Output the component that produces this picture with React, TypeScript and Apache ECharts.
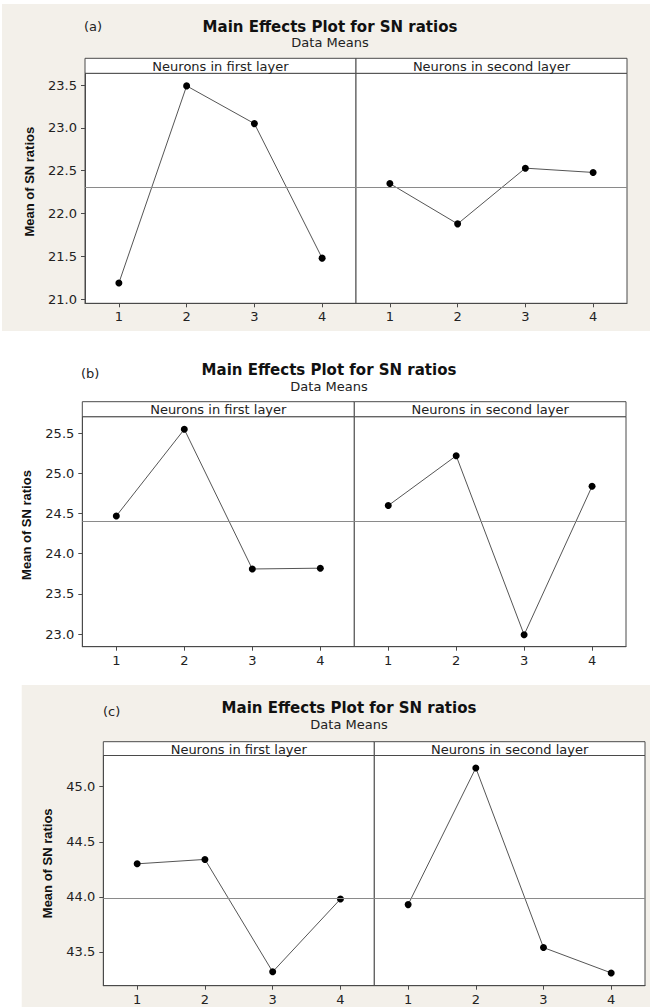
import React, { useEffect, useRef } from "react";
import * as echarts from "echarts";

// ---- data ----
const levels = ["1", "2", "3", "4"];
const factorNames = ["Neurons in first layer", "Neurons in second layer"];
const chartTitle = "Main Effects Plot for SN ratios";
const chartSubtitle = "Data Means";
const yAxisName = "Mean of SN ratios";
const panelLabels = ["(a)", "(b)", "(c)"];

const aFirst = [21.19, 23.49, 23.05, 21.48];
const aSecond = [22.35, 21.88, 22.53, 22.48];
const bFirst = [24.47, 25.55, 23.81, 23.82];
const bSecond = [24.6, 25.22, 22.99, 24.84];
const cFirst = [44.3, 44.34, 43.32, 43.98];
const cSecond = [43.93, 45.17, 43.54, 43.31];

const aTicks = [21.0, 21.5, 22.0, 22.5, 23.0, 23.5];
const bTicks = [23.0, 23.5, 24.0, 24.5, 25.0, 25.5];
const cTicks = [43.5, 44.0, 44.5, 45.0];

// ---- layout ----
const panels = [
  {
    label: panelLabels[0], first: aFirst, second: aSecond, ticks: aTicks, min: 20.953, max: 23.637,
    left: 85, mid: 356, right: 627, headTop: 58.3, plotTop: 73.3, bottom: 303.3,
    titleX: 330, titleY: 26.7, subY: 42, labelX: 84, labelY: 26.7, yNameX: 29.3, yNameY: 181.7,
    bg: { x: 2, y: 4, w: 648, h: 327 },
  },
  {
    label: panelLabels[1], first: bFirst, second: bSecond, ticks: bTicks, min: 22.842, max: 25.707,
    left: 82.3, mid: 354.3, right: 626, headTop: 401.7, plotTop: 416.7, bottom: 646.7,
    titleX: 329, titleY: 370, subY: 386, labelX: 81, labelY: 373, yNameX: 26.7, yNameY: 525,
    bg: null,
  },
  {
    label: panelLabels[2], first: cFirst, second: cSecond, ticks: cTicks, min: 43.194, max: 45.283,
    left: 103.3, mid: 374.3, right: 645, headTop: 741.7, plotTop: 755.5, bottom: 985.7,
    titleX: 349, titleY: 708.3, subY: 724.3, labelX: 103, labelY: 711.7, yNameX: 47.3, yNameY: 863.3,
    bg: { x: 21.7, y: 685, w: 628.3, h: 322 },
  },
];

const FONT = "'DejaVu Sans', Verdana, sans-serif";
const FRAME = "#4a4a4a";

export default function App() {
  const ref = useRef<HTMLDivElement>(null);

  useEffect(() => {
    if (!ref.current) return;
    const chart = echarts.init(ref.current, undefined, { renderer: "svg" });

    const grids: any[] = [];
    const xAxes: any[] = [];
    const yAxes: any[] = [];
    const series: any[] = [];
    const graphics: any[] = [];

    panels.forEach((p) => {
      const all = [...p.first, ...p.second];
      const mean = all.reduce((s, v) => s + v, 0) / all.length;

      if (p.bg) {
        graphics.push({
          type: "rect", z: -10,
          shape: { x: p.bg.x, y: p.bg.y, width: p.bg.w, height: p.bg.h },
          style: { fill: "#f3f0ea" },
        });
      }
      graphics.push({
        type: "text",
        style: {
          text: chartTitle, x: p.titleX, y: p.titleY, font: `bold 15px ${FONT}`, fill: "#111",
          textAlign: "center", textVerticalAlign: "middle", align: "center", verticalAlign: "middle",
        },
      });
      graphics.push({
        type: "text",
        style: {
          text: chartSubtitle, x: p.titleX, y: p.subY, font: `13px ${FONT}`, fill: "#222",
          textAlign: "center", textVerticalAlign: "middle", align: "center", verticalAlign: "middle",
        },
      });
      graphics.push({
        type: "text",
        style: {
          text: p.label, x: p.labelX, y: p.labelY, font: `13px ${FONT}`, fill: "#222",
          textAlign: "left", textVerticalAlign: "middle", align: "left", verticalAlign: "middle",
        },
      });
      graphics.push({
        type: "text",
        x: p.yNameX, y: p.yNameY, rotation: Math.PI / 2,
        style: {
          text: yAxisName, x: 0, y: 0, font: `bold 13px 'Liberation Sans', Arial, sans-serif`, fill: "#111",
          textAlign: "center", textVerticalAlign: "middle", align: "center", verticalAlign: "middle",
        },
      });

      const halves = [
        { x0: p.left, x1: p.mid, data: p.first, name: factorNames[0] },
        { x0: p.mid, x1: p.right, data: p.second, name: factorNames[1] },
      ];
      halves.forEach((h, hi) => {
        const idx = grids.length;
        grids.push({
          left: h.x0, top: p.plotTop, width: h.x1 - h.x0, height: p.bottom - p.plotTop,
          show: true, backgroundColor: "#ffffff", borderColor: FRAME, borderWidth: 1,
          containLabel: false,
        });
        graphics.push({
          type: "rect",
          shape: { x: h.x0, y: p.headTop, width: h.x1 - h.x0, height: p.plotTop - p.headTop },
          style: { fill: "#ffffff", stroke: FRAME, lineWidth: 1 },
        });
        graphics.push({
          type: "text",
          style: {
            text: h.name, x: (h.x0 + h.x1) / 2, y: (p.headTop + p.plotTop) / 2 + 0.5,
            font: `13px ${FONT}`, fill: "#222",
            textAlign: "center", textVerticalAlign: "middle", align: "center", verticalAlign: "middle",
          },
        });
        xAxes.push({
          type: "category", gridIndex: idx, data: levels, boundaryGap: true,
          axisLine: { show: true, lineStyle: { color: FRAME, width: 1 } },
          axisTick: { show: true, alignWithLabel: true, length: 4, lineStyle: { color: FRAME } },
          axisLabel: { show: true, color: "#222", fontSize: 13, fontFamily: FONT, margin: 7 },
          splitLine: { show: false },
        });
        yAxes.push({
          type: "value", gridIndex: idx, min: p.min, max: p.max,
          axisLine: { show: hi === 0, lineStyle: { color: FRAME, width: 1 } },
          axisTick: { show: hi === 0, length: 4, lineStyle: { color: FRAME }, customValues: p.ticks },
          axisLabel: {
            show: hi === 0, color: "#222", fontSize: 13, fontFamily: FONT, margin: 8,
            customValues: p.ticks, formatter: (v: number) => v.toFixed(1),
          },
          splitLine: { show: false },
        });
        series.push({
          type: "line", xAxisIndex: idx, yAxisIndex: idx, data: h.data,
          symbol: "circle", symbolSize: 7, showSymbol: true,
          itemStyle: { color: "#000" },
          lineStyle: { color: "#555", width: 1 },
          markLine: {
            silent: true, symbol: "none", label: { show: false },
            lineStyle: { color: "#8a8a8a", width: 1, type: "solid" },
            data: [{ yAxis: mean }],
          },
          z: 3,
        });
      });
    });

    chart.setOption({
      animation: false,
      backgroundColor: "#ffffff",
      grid: grids,
      xAxis: xAxes,
      yAxis: yAxes,
      series,
      graphic: graphics,
    });

    return () => chart.dispose();
  }, []);

  return (
    <div
      ref={ref}
      style={{ position: "absolute", left: 0, top: 0, width: 650, height: 1007 }}
    />
  );
}
